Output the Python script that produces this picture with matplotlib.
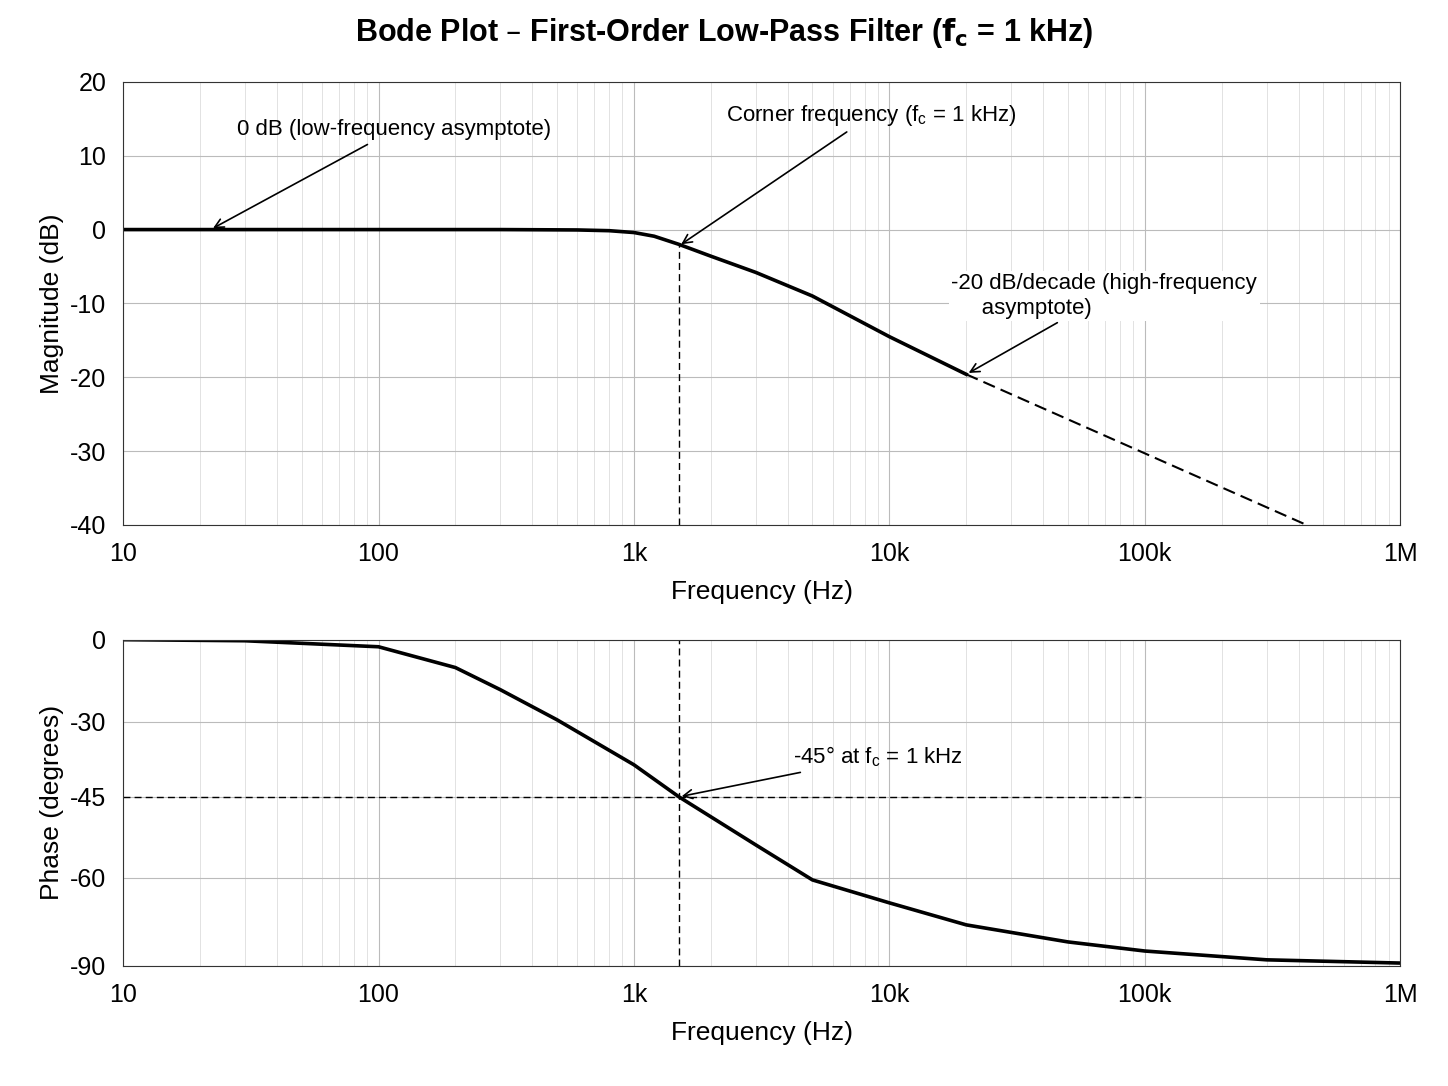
import matplotlib
matplotlib.use('Agg')
from matplotlib import pyplot as plt
from matplotlib.ticker import FixedLocator, LogLocator, NullFormatter
import numpy as np

plt.rcParams['font.family'] = ['Liberation Sans', 'DejaVu Sans']
plt.rcParams['axes.unicode_minus'] = False

# values
mag_freq = [10, 100, 300, 600, 800, 1000, 1200, 1500, 2000, 3000, 5000, 10000, 20000]
mag_db = [0, 0, 0, -0.05, -0.15, -0.4, -0.9, -2.0, -3.6, -5.8, -9.0, -14.5, -19.6]
asym_freq = [20000, 430000]
asym_db = [-19.6, -40]

ph_freq = [10, 30, 100, 200, 300, 500, 1000, 1500, 3000, 5000, 10000,
           20000, 50000, 100000, 300000, 1000000]
ph_deg = [0, -0.4, -2.6, -10.2, -18.3, -29.3, -38.6, -45, -53.9, -60.7, -68.5,
          -76, -81.8, -84.9, -87.9, -89]

fc_plot = 1500
xticks = [10, 100, 1000, 10000, 100000, 1000000]
xlabels = ['10', '100', '1k', '10k', '100k', '1M']
ph_ticks = [0, -30, -45, -60, -90]
ph_tick_pos = [0, -0.2515, -0.4816, -0.730, -1.0]  # tick spacing seen in the picture

fig = plt.figure(figsize=(14.48, 10.86), dpi=100)
ax1 = fig.add_axes([0.085, 0.5166, 0.882, 0.408])
ax2 = fig.add_axes([0.085, 0.1105, 0.882, 0.3005])

fwd_v = ph_ticks[::-1]
fwd_p = ph_tick_pos[::-1]
ax2.set_yscale('function', functions=(lambda v: np.interp(v, fwd_v, fwd_p),
                                      lambda p: np.interp(p, fwd_p, fwd_v)))

for ax in (ax1, ax2):
    ax.set_xscale('log')
    ax.set_xlim(10, 1e6)
    ax.set_xticks(xticks)
    ax.set_xticklabels(xlabels, fontsize=18)
    ax.xaxis.set_minor_locator(LogLocator(base=10, subs=range(2, 10)))
    ax.xaxis.set_minor_formatter(NullFormatter())
    ax.grid(which='major', color='#bbbbbb', lw=0.8)
    ax.grid(which='minor', color='#dddddd', lw=0.6)
    ax.tick_params(labelsize=18, length=0, pad=12)
    ax.tick_params(which='minor', length=0)
    ax.set_xlabel('Frequency (Hz)', fontsize=19, labelpad=10)
    for s in ax.spines.values():
        s.set_color('#333333')

# magnitude
ax1.plot(mag_freq, mag_db, color='black', lw=2.6)
ax1.plot(asym_freq, asym_db, color='black', lw=1.5, ls=(0, (6, 3)))
ax1.plot([fc_plot, fc_plot], [-40, -2.0], color='black', lw=1, ls=(0, (5, 3)))
ax1.set_ylim(-40, 20)
ax1.set_yticks(range(-40, 21, 10))
ax1.set_ylabel('Magnitude (dB)', fontsize=19)

arr = dict(arrowstyle='->', color='black', lw=1.2)
ax1.annotate('0 dB (low-frequency asymptote)', xy=(22, 0), xytext=(28, 13.5),
             fontsize=16, arrowprops=arr, va='center')
ax1.annotate('Corner frequency ($\\mathregular{f_c}$ = 1 kHz)', xy=(fc_plot, -2.2),
             xytext=(2300, 15.5), fontsize=16, arrowprops=arr, va='center')
ax1.annotate('-20 dB/decade (high-frequency\n     asymptote)', xy=(20000, -19.6),
             xytext=(17500, -9), fontsize=16, arrowprops=arr, va='center',
             bbox=dict(facecolor='white', edgecolor='none', pad=2))

# phase
ax2.plot(ph_freq, ph_deg, color='black', lw=2.6)
ax2.plot([10, 100000], [-45, -45], color='black', lw=1, ls=(0, (5, 3)))
ax2.plot([fc_plot, fc_plot], [-90, 0], color='black', lw=1, ls=(0, (5, 3)))
ax2.set_ylim(-90, 0)
ax2.yaxis.set_major_locator(FixedLocator(ph_ticks))
ax2.yaxis.set_minor_locator(FixedLocator([]))
ax2.yaxis.set_major_formatter(matplotlib.ticker.FuncFormatter(lambda v, p: '%d' % v))
ax2.set_ylabel('Phase (degrees)', fontsize=19)
ax2.annotate('-45° at $\\mathregular{f_c}$ = 1 kHz', xy=(fc_plot, -45), xytext=(4200, -37),
             fontsize=16, arrowprops=arr, va='center')

fig.suptitle('Bode Plot – First-Order Low-Pass Filter ($\\mathbf{f_c}$ = 1 kHz)',
             fontsize=22, fontweight='bold', y=0.985)

plt.savefig('out.png', dpi=100)
